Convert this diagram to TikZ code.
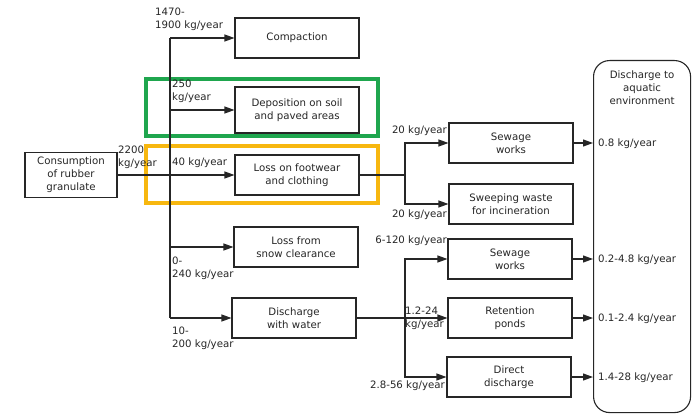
\documentclass[tikz,border=0pt]{standalone}
\usepackage{fontspec}
\setmainfont{DejaVu Sans}
\usetikzlibrary{arrows.meta,positioning}
\definecolor{hlgreen}{HTML}{1FA64E}
\definecolor{hlorange}{HTML}{F7B70F}
\definecolor{ink}{HTML}{262626}
\begin{document}
\begin{tikzpicture}[x=1pt, y=-1pt,
  font=\fontsize{10.2}{13}\selectfont, text=ink,
  box/.style={draw=ink, line width=1.1pt, align=center,
              minimum width=124pt, minimum height=40pt, inner sep=2pt},
  lbl/.style={align=left, inner sep=0pt, anchor=north west},
  arr/.style={-{Triangle[length=10pt, width=7pt]}, line width=1.1pt, draw=ink},
  ln/.style={line width=1.1pt, draw=ink},
  hl/.style={draw=#1, line width=3.5pt}]
\useasboundingbox[fill=white] (0,0) rectangle (692,417);
% highlight frames
\draw[hl=hlgreen] (146,79) rectangle (378,136);
\draw[hl=hlorange] (146,146) rectangle (378,203);
% source
\node[box, minimum width=92pt, minimum height=45pt] (cons) at (71,175) {Consumption\\of rubber\\granulate};
% first level
\node[box] (comp) at (297,38) {Compaction};
\node[box, minimum height=46pt] (dep) at (297,110) {Deposition on soil\\and paved areas};
\node[box] (foot) at (297,175) {Loss on footwear\\and clothing};
\node[box] (snow) at (296,247) {Loss from\\snow clearance};
\node[box] (water) at (294,318) {Discharge\\with water};
% second level
\node[box] (sew1) at (511,143) {Sewage\\works};
\node[box] (sweep) at (511,204) {Sweeping waste\\for incineration};
\node[box] (sew2) at (510,259) {Sewage\\works};
\node[box] (ret) at (510,318) {Retention\\ponds};
\node[box] (direct) at (509,377) {Direct\\discharge};
% recipient
\node[draw=ink, line width=1.1pt, rounded corners=16pt, minimum width=97pt,
      minimum height=352pt, anchor=north west] (env) at (593,60) {};
\node[align=center, anchor=north, inner sep=0pt] (envtext) at ([yshift=-11pt]env.north) {Discharge to\\aquatic\\environment};
% junctions
\coordinate (j1) at (170,38);
\coordinate (j2) at (170,110);
\coordinate (j3) at (170,175);
\coordinate (j4) at (170,247);
\coordinate (j5) at (170,318);
\coordinate (s1) at (405,175);
\coordinate (s2) at (405,318);
% trunk
\draw[ln] (cons.east) -- (j3);
\draw[ln] (j1) -- (j5);
\draw[arr] (j1) -- (comp.west);
\draw[arr] (j2) -- (dep.west);
\draw[arr] (j3) -- (foot.west);
\draw[arr] (j4) -- (snow.west);
\draw[arr] (j5) -- (water.west);
% footwear branch
\draw[ln] (foot.east) -- (s1);
\draw[arr] (s1) |- (sew1.west);
\draw[arr] (s1) |- (sweep.west);
% water branch
\draw[arr] (water.east) -- (ret.west);
\draw[arr] (s2) |- (sew2.west);
\draw[arr] (s2) |- (direct.west);
% to recipient
\draw[arr] (sew1.east) -- (sew1.east -| env.west);
\draw[arr] (sew2.east) -- (sew2.east -| env.west);
\draw[arr] (ret.east) -- (ret.east -| env.west);
\draw[arr] (direct.east) -- (direct.east -| env.west);
% flow labels
\node[lbl] (l1) at (155,8) {1470-\\1900 kg/year};
\node[lbl] (l2) at (172,80) {250\\kg/year};
\node[lbl] (l0) at (118,146) {2200\\kg/year};
\node[lbl] (l3) at (172,158) {40 kg/year};
\node[lbl] (l4) at (172,257) {0-\\240 kg/year};
\node[lbl] (l5) at (172,327) {10-\\200 kg/year};
\node[lbl, anchor=north east] (l6) at (447,126) {20 kg/year};
\node[lbl, anchor=north east] (l7) at (447,210) {20 kg/year};
\node[lbl, anchor=north east] (l8) at (447,236) {6-120 kg/year};
\node[lbl] (l9) at (405,307) {1.2-24\\kg/year};
\node[lbl, anchor=north east] (l10) at (445,381) {2.8-56 kg/year};
\node[lbl, anchor=west] (o1) at (598,144) {0.8 kg/year};
\node[lbl, anchor=west] (o2) at (598,260) {0.2-4.8 kg/year};
\node[lbl, anchor=west] (o3) at (598,319) {0.1-2.4 kg/year};
\node[lbl, anchor=west] (o4) at (598,378) {1.4-28 kg/year};
\end{tikzpicture}
\end{document}
